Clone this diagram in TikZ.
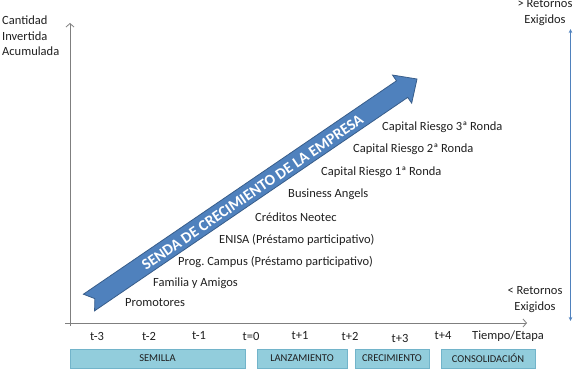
\documentclass[tikz,border=0pt]{standalone}
\usepackage{fontspec}
\setmainfont{Carlito}
\usetikzlibrary{arrows.meta}
\definecolor{arrowblue}{HTML}{4F81BD}
\definecolor{arrowedge}{HTML}{385D8A}
\definecolor{boxfill}{HTML}{92CDDC}
\definecolor{boxedge}{HTML}{72B4CA}
\definecolor{axisgray}{HTML}{7F7F7F}
\definecolor{txt}{HTML}{1F1F1F}
\frenchspacing
\begin{document}
\begin{tikzpicture}[x=1pt,y=-1pt,
  font=\fontsize{12.5}{14}\selectfont,
  lbl/.style={anchor=west, text=txt, inner sep=0pt},
  ticklbl/.style={text=txt, inner sep=0pt},
  stage/.style={draw=boxedge, fill=boxfill, minimum height=19pt, inner sep=0pt,
    font=\fontsize{10.5}{11}\selectfont, text=txt},
  axisline/.style={draw=axisgray, line width=0.8pt, -{Straight Barb[length=3.5pt,width=8pt]}},
  retaxis/.style={draw=arrowblue, line width=0.6pt,
    {Stealth[length=4pt,width=3.5pt]}-{Stealth[length=4pt,width=3.5pt]}},
  sidetext/.style={align=center, text=txt, inner sep=0pt, font=\fontsize{12.5}{16}\selectfont}
]
\useasboundingbox (0,0) rectangle (578,371);

% axes
\coordinate (yo) at (70,326);
\coordinate (yt) at (70,23);
\coordinate (xo) at (65,323);
\coordinate (xt) at (527,323);
\draw[axisline] (yo) -- (yt);
\draw[axisline] (xo) -- (xt);
\coordinate (rt) at (570.5,29);
\coordinate (rb) at (570.5,321);
\draw[retaxis] (rb) -- (rt);

% axis labels
\node[anchor=north west, align=left, text=txt, inner sep=0pt,
  font=\fontsize{12.5}{15.5}\selectfont] (ylab) at (2,16) {Cantidad\\Invertida\\Acumulada};
\node[sidetext] (rtop) at (545,13) {> Retornos\\Exigidos};
\node[sidetext] (rbot) at (535,300) {< Retornos\\Exigidos};

% big arrow
\filldraw[fill=arrowblue, draw=arrowedge, line width=0.8pt, line join=miter]
  (83.4,294.2) -- (396.5,80.8) -- (392.5,75.05) -- (417,79) -- (411.7,103.1)
  -- (407.7,97.4) -- (94.6,310.8) -- (94.8,298.6) -- cycle;
\node[rotate=34.2, text=white, inner sep=0pt, font=\fontsize{15.5}{16}\selectfont\bfseries]
  (senda) at (252.5,192.5) {SENDA DE CRECIMIENTO DE LA EMPRESA};

% financing sources
\node[lbl] (promo) at (125,303) {Promotores};
\node[lbl] (fam) at (153,283) {Familia y Amigos};
\node[lbl] (camp) at (178,262) {Prog. Campus (Préstamo participativo)};
\node[lbl] (enisa) at (219,240) {ENISA (Préstamo participativo)};
\node[lbl] (neo) at (255,217) {Créditos Neotec};
\node[lbl] (ba) at (288,194) {Business Angels};
\node[lbl] (cr1) at (321,172) {Capital Riesgo 1ª Ronda};
\node[lbl] (cr2) at (353,149) {Capital Riesgo 2ª Ronda};
\node[lbl] (cr3) at (382,127) {Capital Riesgo 3ª Ronda};

% time ticks
\node[ticklbl] (tm3) at (97,336) {t-3};
\node[ticklbl] (tm2) at (149,336) {t-2};
\node[ticklbl] (tm1) at (199,336) {t-1};
\node[ticklbl] (t0) at (251,336) {t=0};
\node[ticklbl] (tp1) at (300,336) {t+1};
\node[ticklbl] (tp2) at (350,336) {t+2};
\node[ticklbl] (tp3) at (400,338) {t+3};
\node[ticklbl] (tp4) at (443,336) {t+4};
\node[ticklbl] (tiempo) at (508,336) {Tiempo/Etapa};

% stages
\node[stage, minimum width=175pt] (semilla) at (157.5,358.5) {SEMILLA};
\node[stage, minimum width=90pt] (lanz) at (302,358.5) {LANZAMIENTO};
\node[stage, minimum width=74pt] (crec) at (392,358.5) {CRECIMIENTO};
\node[stage, minimum width=94pt] (cons) at (488,358.5) {CONSOLIDACIÓN};
\end{tikzpicture}
\end{document}
